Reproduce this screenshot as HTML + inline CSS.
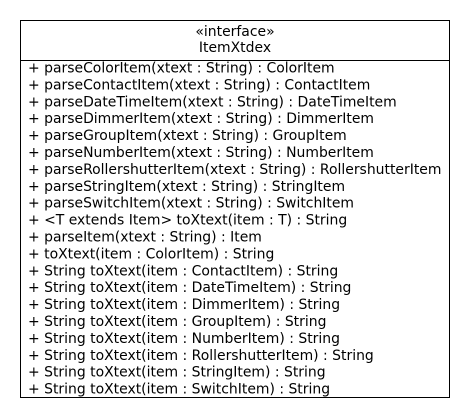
<!DOCTYPE html>
<html><head><meta charset="utf-8"><style>html,body{margin:0;padding:0;background:#fff;width:470px;height:420px;overflow:hidden}</style></head>
<body>
<svg width="470" height="420" xmlns="http://www.w3.org/2000/svg" font-family="'DejaVu Sans', 'Liberation Sans', sans-serif" font-size="13.95" fill="#000">
<rect x="20.5" y="20.5" width="429" height="377" fill="#fff" stroke="#000" stroke-width="1"/>
<line x1="20" y1="60.5" x2="450" y2="60.5" stroke="#000"/>
<text x="235" y="36" text-anchor="middle">«interface»</text>
<text x="235" y="52" text-anchor="middle">ItemXtdex</text>
<g>
<text x="28" y="72.5">+ parseColorItem(xtext : String) : ColorItem</text>
<text x="28" y="89.4">+ parseContactItem(xtext : String) : ContactItem</text>
<text x="28" y="106.3">+ parseDateTimeItem(xtext : String) : DateTimeItem</text>
<text x="28" y="123.2">+ parseDimmerItem(xtext : String) : DimmerItem</text>
<text x="28" y="140.1">+ parseGroupItem(xtext : String) : GroupItem</text>
<text x="28" y="157">+ parseNumberItem(xtext : String) : NumberItem</text>
<text x="28" y="173.9">+ parseRollershutterItem(xtext : String) : RollershutterItem</text>
<text x="28" y="190.8">+ parseStringItem(xtext : String) : StringItem</text>
<text x="28" y="207.7">+ parseSwitchItem(xtext : String) : SwitchItem</text>
<text x="28" y="224.6">+ &lt;T extends Item&gt; toXtext(item : T) : String</text>
<text x="28" y="241.5">+ parseItem(xtext : String) : Item</text>
<text x="28" y="258.4">+ toXtext(item : ColorItem) : String</text>
<text x="28" y="275.3">+ String toXtext(item : ContactItem) : String</text>
<text x="28" y="292.2">+ String toXtext(item : DateTimeItem) : String</text>
<text x="28" y="309.1">+ String toXtext(item : DimmerItem) : String</text>
<text x="28" y="326">+ String toXtext(item : GroupItem) : String</text>
<text x="28" y="342.9">+ String toXtext(item : NumberItem) : String</text>
<text x="28" y="359.8">+ String toXtext(item : RollershutterItem) : String</text>
<text x="28" y="376.7">+ String toXtext(item : StringItem) : String</text>
<text x="28" y="393.6">+ String toXtext(item : SwitchItem) : String</text>
</g>
</svg>
</body></html>
